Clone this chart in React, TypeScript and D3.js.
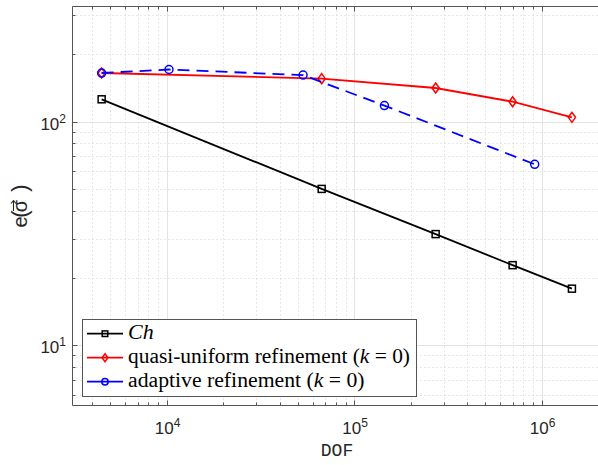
import React from "react";
import * as d3 from "d3";

const W = 598;
const H = 465;

// Data (DOF, error)
const chDof = [4500, 67100, 272000, 700000, 1450000];
const chErr = [125.8, 50.0, 31.4, 22.8, 17.9];
const quDof = [4500, 67100, 272000, 700000, 1450000];
const quErr = [164.9, 155.6, 141.3, 122.7, 104.5];
const adDof = [4500, 10290, 53400, 145000, 918000];
const adErr = [164.9, 171, 161.4, 117.9, 64.4];

const xDomain = [3146, 2.047e6];
const yDomain = [5.375, 327.1];
const xMajor = [1e4, 1e5, 1e6];
const yMajor = [1e1, 1e2];
const xMajorExp = ["4", "5", "6"];
const yMajorExp = ["1", "2"];

const legendLabels = ["Ch", "quasi-uniform refinement", "adaptive refinement"];

const left = 72.5, right = 600, top = 6.5, bottom = 405.5;

function minorTicks(domain: number[]) {
  const out: number[] = [];
  for (let e = -1; e <= 7; e++) {
    const d = Math.pow(10, e);
    for (let m = 2; m <= 9; m++) {
      const v = d * m;
      if (v > domain[0] && v < domain[1]) out.push(v);
    }
  }
  return out;
}

export default function App() {
  const x = d3.scaleLog().domain(xDomain).range([left, right]);
  const y = d3.scaleLog().domain(yDomain).range([bottom, top]);
  const xMinor = minorTicks(xDomain);
  const yMinor = minorTicks(yDomain);
  const line = d3.line<[number, number]>().x((d) => x(d[0])).y((d) => y(d[1]));
  const zip = (a: number[], b: number[]) => a.map((v, i) => [v, b[i]] as [number, number]);

  const axisColor = "#555";
  const series = [
    { pts: zip(chDof, chErr), color: "#000000", marker: "square", dash: "" },
    { pts: zip(quDof, quErr), color: "#ff0000", marker: "diamond", dash: "" },
    { pts: zip(adDof, adErr), color: "#0000ff", marker: "circle", dash: "12,7" },
  ];

  const marker = (type: string, cx: number, cy: number, color: string, key: any, s = 1) => {
    if (type === "square") {
      const h = 3.5 * s;
      return <rect key={key} x={cx - h} y={cy - h} width={2 * h} height={2 * h} fill="none" stroke={color} strokeWidth={1.5} />;
    }
    if (type === "diamond") {
      const hw = 3.6 * s, hh = 5 * s;
      return (
        <path key={key} d={`M${cx},${cy - hh}L${cx + hw},${cy}L${cx},${cy + hh}L${cx - hw},${cy}Z`} fill="none" stroke={color} strokeWidth={1.5} />
      );
    }
    return <circle key={key} cx={cx} cy={cy} r={4 * s} fill="none" stroke={color} strokeWidth={1.5} />;
  };

  const tickFont = "Liberation Sans, Arial, sans-serif";
  const legendFont = "Liberation Serif, Times New Roman, serif";

  const lgX = 82.5, lgY = 319.5, lgW = 334, lgH = 77;
  const lgRows = [338.7, 362.7, 386.7];
  const lgWidths = [25.6, 282, 236.6];

  return (
    <svg width={W} height={H} style={{ position: "absolute", left: 0, top: 0, background: "#fff" }}>
      <rect x={0} y={0} width={W} height={H} fill="#fff" />
      {/* minor grid */}
      <g stroke="#c4c4c4" strokeWidth={0.8} strokeDasharray="1,3">
        {xMinor.map((v, i) => (
          <line key={"xm" + i} x1={Math.round(x(v)) + 0.5} x2={Math.round(x(v)) + 0.5} y1={top} y2={bottom} />
        ))}
        {yMinor.map((v, i) => (
          <line key={"ym" + i} x1={left} x2={right} y1={Math.round(y(v)) + 0.5} y2={Math.round(y(v)) + 0.5} />
        ))}
      </g>
      {/* major grid */}
      <g stroke="#e3e3e3" strokeWidth={1}>
        {xMajor.map((v, i) => (
          <line key={"xM" + i} x1={Math.round(x(v)) + 0.5} x2={Math.round(x(v)) + 0.5} y1={top} y2={bottom} />
        ))}
        {yMajor.map((v, i) => (
          <line key={"yM" + i} x1={left} x2={right} y1={Math.round(y(v)) + 0.5} y2={Math.round(y(v)) + 0.5} />
        ))}
      </g>
      {/* axes box */}
      <g stroke={axisColor} strokeWidth={1} fill="none">
        <line x1={left} x2={right} y1={bottom} y2={bottom} />
        <line x1={left} x2={right} y1={top} y2={top} />
        <line x1={left} x2={left} y1={top} y2={bottom} />
        {xMajor.map((v, i) => {
          const px = Math.round(x(v)) + 0.5;
          return (
            <g key={"xt" + i}>
              <line x1={px} x2={px} y1={bottom} y2={bottom - 5} />
              <line x1={px} x2={px} y1={top} y2={top + 5} />
            </g>
          );
        })}
        {xMinor.map((v, i) => {
          const px = Math.round(x(v)) + 0.5;
          return (
            <g key={"xmt" + i}>
              <line x1={px} x2={px} y1={bottom} y2={bottom - 3} />
              <line x1={px} x2={px} y1={top} y2={top + 3} />
            </g>
          );
        })}
        {yMajor.map((v, i) => {
          const py = Math.round(y(v)) + 0.5;
          return <line key={"yt" + i} x1={left} x2={left + 5} y1={py} y2={py} />;
        })}
        {yMinor.map((v, i) => {
          const py = Math.round(y(v)) + 0.5;
          return <line key={"ymt" + i} x1={left} x2={left + 3} y1={py} y2={py} />;
        })}
      </g>
      {/* tick labels */}
      <g fill="#262626" fontFamily={tickFont}>
        {xMajor.map((v, i) => (
          <text key={"xl" + i} x={x(v) + 1} y={433.5} textAnchor="middle" fontSize={17}>
            <tspan>10</tspan>
            <tspan fontSize={12} dy={-7}>{xMajorExp[i]}</tspan>
          </text>
        ))}
        {yMajor.map((v, i) => (
          <text key={"yl" + i} x={66} y={y(v) + 8} textAnchor="end" fontSize={17}>
            <tspan>10</tspan>
            <tspan fontSize={12} dy={-7}>{yMajorExp[i]}</tspan>
          </text>
        ))}
      </g>
      {/* axis labels */}
      <text x={337} y={456} textAnchor="middle" fontFamily="Liberation Mono, DejaVu Sans Mono, monospace" fontSize={18} fill="#262626">
        DOF
      </text>
      <g transform="translate(27,206) rotate(-90)" fontFamily={tickFont} fill="#262626" textAnchor="middle">
        <text x={-16} y={0} fontSize={20}>e</text>
        <text x={-8} y={0} fontSize={22}>(</text>
        <text x={0} y={0} fontSize={20}>σ</text>
        <text x={18} y={0} fontSize={22}>)</text>
        <path d="M-5,-13.5L5.5,-13.5M2.5,-16L5.5,-13.5L2.5,-11" fill="none" stroke="#262626" strokeWidth={1.1} />
      </g>
      {/* series */}
      {series.map((s, si) => (
        <g key={"s" + si}>
          <path d={line(s.pts) || ""} fill="none" stroke={s.color} strokeWidth={1.8} strokeDasharray={s.dash || undefined} />
          {s.pts.map((p, pi) => marker(s.marker, x(p[0]), y(p[1]), s.color, pi))}
        </g>
      ))}
      {/* legend */}
      <rect x={lgX} y={lgY} width={lgW} height={lgH} fill="#fff" stroke={axisColor} strokeWidth={1} />
      {series.map((s, i) => {
        const cy = lgRows[i] - 5;
        return (
          <g key={"lg" + i}>
            <line x1={87} x2={123} y1={cy} y2={cy} stroke={s.color} strokeWidth={1.8} />
            {marker(s.marker, 105, cy, s.color, "m", 0.8)}
            <text x={128} y={lgRows[i]} fontFamily={legendFont} fontSize={20} fill="#000" textLength={lgWidths[i]} lengthAdjust="spacingAndGlyphs">
              {i === 0 ? (
                <tspan fontStyle="italic">{legendLabels[i]}</tspan>
              ) : (
                <>
                  <tspan>{legendLabels[i] + " ("}</tspan>
                  <tspan fontStyle="italic">k</tspan>
                  <tspan>{" = 0)"}</tspan>
                </>
              )}
            </text>
          </g>
        );
      })}
    </svg>
  );
}
